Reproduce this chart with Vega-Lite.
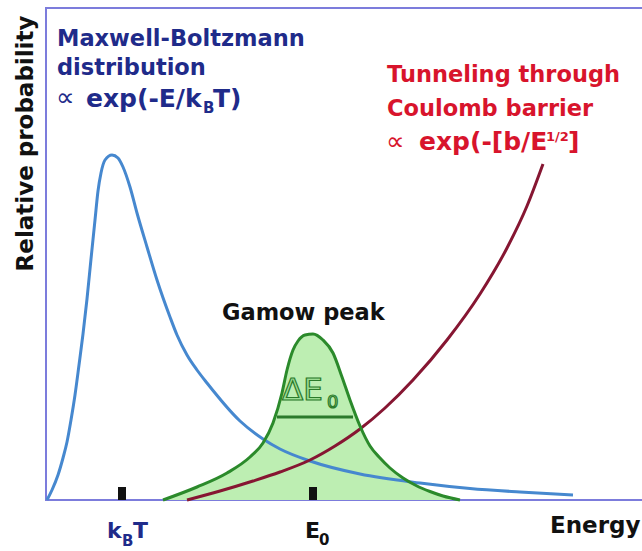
{
  "$schema": "https://vega.github.io/schema/vega-lite/v6.json",
  "width": 597,
  "height": 492,
  "autosize": {"type": "none"},
  "padding": {"left": 46, "top": 8, "right": 0, "bottom": 51},
  "background": "white",
  "config": {
    "view": {"stroke": "#7c7cdc", "strokeWidth": 2},
    "axis": {"grid": false, "ticks": false, "labels": false, "domain": false},
    "text": {"font": "DejaVu Sans", "fontWeight": "bold", "align": "left", "baseline": "alphabetic"}
  },
  "datasets": {
    "curves": [
      {"curve": "Maxwell-Boltzmann", "E": 1, "P": 0},
      {"curve": "Maxwell-Boltzmann", "E": 6, "P": 10},
      {"curve": "Maxwell-Boltzmann", "E": 12, "P": 25},
      {"curve": "Maxwell-Boltzmann", "E": 17, "P": 42},
      {"curve": "Maxwell-Boltzmann", "E": 21, "P": 58},
      {"curve": "Maxwell-Boltzmann", "E": 25, "P": 80},
      {"curve": "Maxwell-Boltzmann", "E": 29, "P": 105},
      {"curve": "Maxwell-Boltzmann", "E": 33, "P": 135},
      {"curve": "Maxwell-Boltzmann", "E": 37, "P": 166},
      {"curve": "Maxwell-Boltzmann", "E": 41, "P": 201},
      {"curve": "Maxwell-Boltzmann", "E": 45, "P": 241},
      {"curve": "Maxwell-Boltzmann", "E": 49, "P": 280},
      {"curve": "Maxwell-Boltzmann", "E": 52, "P": 309},
      {"curve": "Maxwell-Boltzmann", "E": 55, "P": 327},
      {"curve": "Maxwell-Boltzmann", "E": 59, "P": 340},
      {"curve": "Maxwell-Boltzmann", "E": 66, "P": 345},
      {"curve": "Maxwell-Boltzmann", "E": 72, "P": 342},
      {"curve": "Maxwell-Boltzmann", "E": 77, "P": 333},
      {"curve": "Maxwell-Boltzmann", "E": 84, "P": 313},
      {"curve": "Maxwell-Boltzmann", "E": 91, "P": 287},
      {"curve": "Maxwell-Boltzmann", "E": 101, "P": 253},
      {"curve": "Maxwell-Boltzmann", "E": 111, "P": 220},
      {"curve": "Maxwell-Boltzmann", "E": 124, "P": 183},
      {"curve": "Maxwell-Boltzmann", "E": 131, "P": 165},
      {"curve": "Maxwell-Boltzmann", "E": 141, "P": 145},
      {"curve": "Maxwell-Boltzmann", "E": 151, "P": 130},
      {"curve": "Maxwell-Boltzmann", "E": 161, "P": 117},
      {"curve": "Maxwell-Boltzmann", "E": 194, "P": 79},
      {"curve": "Maxwell-Boltzmann", "E": 217, "P": 61},
      {"curve": "Maxwell-Boltzmann", "E": 234, "P": 51},
      {"curve": "Maxwell-Boltzmann", "E": 264, "P": 39},
      {"curve": "Maxwell-Boltzmann", "E": 314, "P": 26},
      {"curve": "Maxwell-Boltzmann", "E": 374, "P": 17},
      {"curve": "Maxwell-Boltzmann", "E": 424, "P": 11.5},
      {"curve": "Maxwell-Boltzmann", "E": 474, "P": 8},
      {"curve": "Maxwell-Boltzmann", "E": 527, "P": 5},
      {"curve": "Tunneling", "E": 141, "P": 0},
      {"curve": "Tunneling", "E": 174, "P": 9},
      {"curve": "Tunneling", "E": 207, "P": 19},
      {"curve": "Tunneling", "E": 234, "P": 28},
      {"curve": "Tunneling", "E": 264, "P": 40},
      {"curve": "Tunneling", "E": 289, "P": 54},
      {"curve": "Tunneling", "E": 314, "P": 71},
      {"curve": "Tunneling", "E": 339, "P": 92},
      {"curve": "Tunneling", "E": 367, "P": 120},
      {"curve": "Tunneling", "E": 401, "P": 160},
      {"curve": "Tunneling", "E": 434, "P": 206},
      {"curve": "Tunneling", "E": 461, "P": 252},
      {"curve": "Tunneling", "E": 481, "P": 294},
      {"curve": "Tunneling", "E": 497, "P": 336},
      {"curve": "Gamow", "E": 117, "P": 0},
      {"curve": "Gamow", "E": 151, "P": 13},
      {"curve": "Gamow", "E": 181, "P": 27},
      {"curve": "Gamow", "E": 204, "P": 43},
      {"curve": "Gamow", "E": 217, "P": 57},
      {"curve": "Gamow", "E": 227, "P": 77},
      {"curve": "Gamow", "E": 236, "P": 107},
      {"curve": "Gamow", "E": 241, "P": 130},
      {"curve": "Gamow", "E": 247, "P": 150},
      {"curve": "Gamow", "E": 252, "P": 159},
      {"curve": "Gamow", "E": 259, "P": 165},
      {"curve": "Gamow", "E": 267, "P": 166},
      {"curve": "Gamow", "E": 277, "P": 160},
      {"curve": "Gamow", "E": 287, "P": 147},
      {"curve": "Gamow", "E": 296, "P": 123},
      {"curve": "Gamow", "E": 304, "P": 100},
      {"curve": "Gamow", "E": 314, "P": 74},
      {"curve": "Gamow", "E": 324, "P": 54},
      {"curve": "Gamow", "E": 334, "P": 42},
      {"curve": "Gamow", "E": 344, "P": 32},
      {"curve": "Gamow", "E": 357, "P": 22},
      {"curve": "Gamow", "E": 371, "P": 14},
      {"curve": "Gamow", "E": 384, "P": 8.5},
      {"curve": "Gamow", "E": 397, "P": 4},
      {"curve": "Gamow", "E": 414, "P": 0}
    ],
    "labels": [
      {"group": "Maxwell-Boltzmann", "role": "heading", "E": 11, "P": 454, "text": "Maxwell-Boltzmann"},
      {"group": "Maxwell-Boltzmann", "role": "heading", "E": 11, "P": 425, "text": "distribution"},
      {"group": "Maxwell-Boltzmann", "role": "symbol", "E": 10, "P": 394, "text": "∝"},
      {"group": "Maxwell-Boltzmann", "role": "formula", "E": 40, "P": 393, "text": "exp(-E/k"},
      {"group": "Maxwell-Boltzmann", "role": "sub", "E": 157, "P": 387, "text": "B"},
      {"group": "Maxwell-Boltzmann", "role": "formula", "E": 167, "P": 393, "text": "T)"},
      {"group": "Tunneling", "role": "heading", "E": 341, "P": 418, "text": "Tunneling through"},
      {"group": "Tunneling", "role": "heading", "E": 341, "P": 384, "text": "Coulomb barrier"},
      {"group": "Tunneling", "role": "symbol", "E": 340, "P": 350, "text": "∝"},
      {"group": "Tunneling", "role": "formula", "E": 373, "P": 350, "text": "exp(-[b/E"},
      {"group": "Tunneling", "role": "sup", "E": 500, "P": 359, "text": "1/2"},
      {"group": "Tunneling", "role": "formula", "E": 522, "P": 350, "text": "]"},
      {"group": "Gamow", "role": "heading", "E": 176, "P": 180, "text": "Gamow peak"},
      {"group": "Maxwell-Boltzmann", "role": "axislabel", "E": 61, "P": -38, "text": "k"},
      {"group": "Maxwell-Boltzmann", "role": "sub", "E": 76, "P": -46, "text": "B"},
      {"group": "Maxwell-Boltzmann", "role": "axislabel", "E": 87, "P": -38, "text": "T"},
      {"group": "Gamow", "role": "axislabel", "E": 259, "P": -38, "text": "E"},
      {"group": "Gamow", "role": "sub", "E": 273, "P": -45, "text": "0"}
    ],
    "width_label": [
      {"E": 236, "P": 100, "text": "ΔE"},
      {"E": 281, "P": 92, "text": "0"}
    ],
    "band": [
      {"E": 231, "E2": 307, "P": 83}
    ],
    "marks": [
      {"label": "kBT", "E": 76, "P": 0},
      {"label": "E0", "E": 267, "P": 0}
    ]
  },
  "encoding": {
    "x": {
      "field": "E", "type": "quantitative",
      "scale": {"domain": [0, 597], "nice": false, "zero": false},
      "axis": {"title": "Energy", "titleFont": "DejaVu Sans", "titleFontSize": 23, "titleFontWeight": "bold", "titleColor": "#111111", "titleAnchor": "end", "titleAlign": "right", "titleBaseline": "alphabetic", "titleX": 594, "titleY": 32}
    },
    "y": {
      "field": "P", "type": "quantitative",
      "scale": {"domain": [0, 492], "nice": false, "zero": false},
      "axis": {"title": "Relative probability", "titleFont": "DejaVu Sans", "titleFontSize": 23, "titleFontWeight": "bold", "titleColor": "#111111", "titleAngle": 270, "titleAlign": "right", "titleBaseline": "alphabetic", "titleX": -14, "titleY": 7}
    }
  },
  "layer": [
    {
      "data": {"name": "curves"},
      "transform": [{"filter": "datum.curve === 'Gamow'"}],
      "mark": {"type": "area", "interpolate": "monotone", "color": "#bdeeb2"}
    },
    {
      "data": {"name": "curves"},
      "transform": [{"filter": "datum.curve === 'Maxwell-Boltzmann'"}],
      "mark": {"type": "line", "interpolate": "monotone", "color": "#4688cf", "strokeWidth": 3}
    },
    {
      "data": {"name": "curves"},
      "transform": [{"filter": "datum.curve === 'Tunneling'"}],
      "mark": {"type": "line", "interpolate": "monotone", "color": "#861632", "strokeWidth": 3}
    },
    {
      "data": {"name": "curves"},
      "transform": [{"filter": "datum.curve === 'Gamow'"}],
      "mark": {"type": "line", "interpolate": "monotone", "color": "#2b8a2b", "strokeWidth": 3}
    },
    {
      "data": {"name": "band"},
      "mark": {"type": "rule", "color": "#2b7a2b", "strokeWidth": 3},
      "encoding": {"x2": {"field": "E2"}}
    },
    {
      "data": {"name": "marks"},
      "mark": {"type": "rule", "color": "#111111", "strokeWidth": 8},
      "encoding": {"y2": {"datum": 13}}
    },
    {
      "data": {"name": "width_label"},
      "mark": {"type": "text", "fontWeight": "normal", "fill": "#9ede95", "stroke": "#2b7a2b", "strokeWidth": 1.2},
      "encoding": {
        "text": {"field": "text"},
        "size": {"condition": {"test": "datum.text === '0'", "value": 18}, "value": 31}
      }
    },
    {
      "data": {"name": "labels"},
      "transform": [{"filter": "datum.role === 'heading'"}],
      "mark": {"type": "text", "fontSize": 22.5},
      "encoding": {
        "text": {"field": "text"},
        "color": {"field": "group", "type": "nominal", "scale": {"domain": ["Maxwell-Boltzmann", "Tunneling", "Gamow"], "range": ["#1f2b8a", "#d8142c", "#111111"]}, "legend": null}
      }
    },
    {
      "data": {"name": "labels"},
      "transform": [{"filter": "datum.role === 'formula'"}],
      "mark": {"type": "text", "fontSize": 25},
      "encoding": {
        "text": {"field": "text"},
        "color": {"field": "group", "type": "nominal", "legend": null}
      }
    },
    {
      "data": {"name": "labels"},
      "transform": [{"filter": "datum.role === 'sub'"}],
      "mark": {"type": "text", "fontSize": 15},
      "encoding": {
        "text": {"field": "text"},
        "color": {"field": "group", "type": "nominal", "legend": null}
      }
    },
    {
      "data": {"name": "labels"},
      "transform": [{"filter": "datum.role === 'sup'"}],
      "mark": {"type": "text", "fontSize": 13},
      "encoding": {
        "text": {"field": "text"},
        "color": {"field": "group", "type": "nominal", "legend": null}
      }
    },
    {
      "data": {"name": "labels"},
      "transform": [{"filter": "datum.role === 'symbol'"}],
      "mark": {"type": "text", "fontSize": 26, "fontWeight": "normal"},
      "encoding": {
        "text": {"field": "text"},
        "color": {"field": "group", "type": "nominal", "legend": null}
      }
    },
    {
      "data": {"name": "labels"},
      "transform": [{"filter": "datum.role === 'axislabel'"}],
      "mark": {"type": "text", "fontSize": 22},
      "encoding": {
        "text": {"field": "text"},
        "color": {"field": "group", "type": "nominal", "legend": null}
      }
    }
  ]
}
